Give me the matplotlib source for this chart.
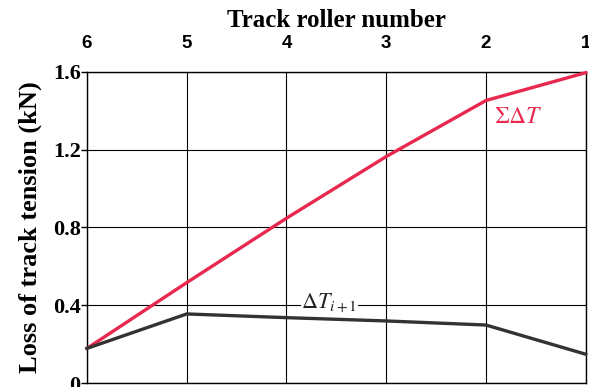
import numpy as np
import matplotlib
matplotlib.use('Agg')
import matplotlib.pyplot as plt

plt.rcParams['mathtext.fontset'] = 'stix'

rollers = [6, 5, 4, 3, 2, 1]
sum_dT = [0.178, 0.516, 0.847, 1.164, 1.452, 1.595]
dT = [0.178, 0.355, 0.336, 0.319, 0.298, 0.148]
yticks = [0, 0.4, 0.8, 1.2, 1.6]
ytick_labels = ['0', '0.4', '0.8', '1.2', '1.6']

serif = 'Liberation Serif'
sans = 'Liberation Sans'

fig = plt.figure(figsize=(5.89, 3.87), dpi=100)
ax = fig.add_axes([0.1477, 0.0103, 0.8467, 0.8044])

ax.plot(rollers, sum_dT, color='#e8284e', lw=2.4, clip_on=False, zorder=3)
ax.plot(rollers, dT, color='#333333', lw=2.4, clip_on=False, zorder=3)

ax.set_xlim(6, 1)
ax.set_ylim(0, 1.6)
ax.set_xticks(rollers)
ax.set_yticks(yticks)
ax.set_yticklabels(ytick_labels, fontfamily=serif, fontweight='bold', fontsize=16)
ax.xaxis.tick_top()
ax.xaxis.set_label_position('top')
ax.set_xticklabels([str(r) for r in rollers], fontfamily=sans, fontweight='bold', fontsize=13.5)
ax.tick_params(axis='x', length=0, pad=14)
ax.tick_params(axis='y', length=4, width=1, pad=0.5)
ax.grid(True, color='black', lw=0.8)
for s in ax.spines.values():
    s.set_linewidth(1.0)

ax.set_xlabel('Track roller number', fontfamily=serif, fontweight='bold', fontsize=18, labelpad=6)
ax.set_ylabel('Loss of track tension (kN)', fontfamily=serif, fontweight='bold', fontsize=19, labelpad=8)

ax.text(1.68, 1.37, r'$\Sigma\Delta T$', color='#e8284e', fontsize=17, ha='center', va='center')
ax.text(3.57, 0.41, r'$\Delta T_{i+1}$', color='#222222', fontsize=16, ha='center', va='center',
        bbox=dict(facecolor='white', edgecolor='none', pad=0.5), zorder=2)

fig.savefig('out.png', dpi=100)
